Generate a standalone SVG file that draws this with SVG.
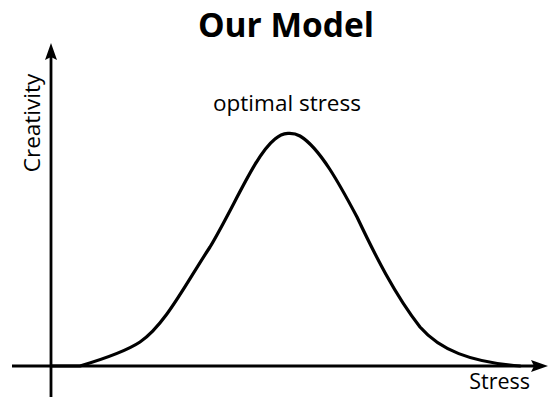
<svg xmlns="http://www.w3.org/2000/svg" width="558" height="397" viewBox="0 0 558 397">
<style>
text{font-family:"Open Sans","Noto Sans","Liberation Sans",sans-serif;fill:#000}
.axis{stroke:#000;stroke-width:2.8;fill:none}
.curve{stroke:#000;stroke-width:3.2;fill:none;stroke-linecap:round;stroke-linejoin:round}
.head{fill:#000}
</style>
<rect width="558" height="397" fill="#fff"/>
<g id="title"><text x="286" y="37" font-size="33.5" font-weight="bold" text-anchor="middle">Our Model</text></g>
<g id="connectors">
<line class="axis" x1="51" y1="397" x2="51" y2="55"/>
<polygon class="head" points="51,43 57,60 51,57 45,60"/>
<line class="axis" x1="12" y1="366" x2="536" y2="366"/>
<polygon class="head" points="548,366 531,372 534,366 531,360"/>
</g>
<g id="curve"><path class="curve" d="M51,366 L80,366 C100,360 125,352 140,342 C165,325 185,285 210,247 C235,205 255,155 275,139 C283,132 293,132 300,136 C320,148 340,185 357,217 C375,255 395,295 420,327 C440,350 470,362 520,366"/></g>
<g id="label-optimal"><text x="287" y="111" font-size="22.5" text-anchor="middle">optimal stress</text></g>
<g id="label-x"><text x="530" y="389" font-size="21.5" text-anchor="end">Stress</text></g>
<g id="label-y"><text transform="translate(40,123) rotate(-90)" font-size="22.5" text-anchor="middle">Creativity</text></g>
</svg>
